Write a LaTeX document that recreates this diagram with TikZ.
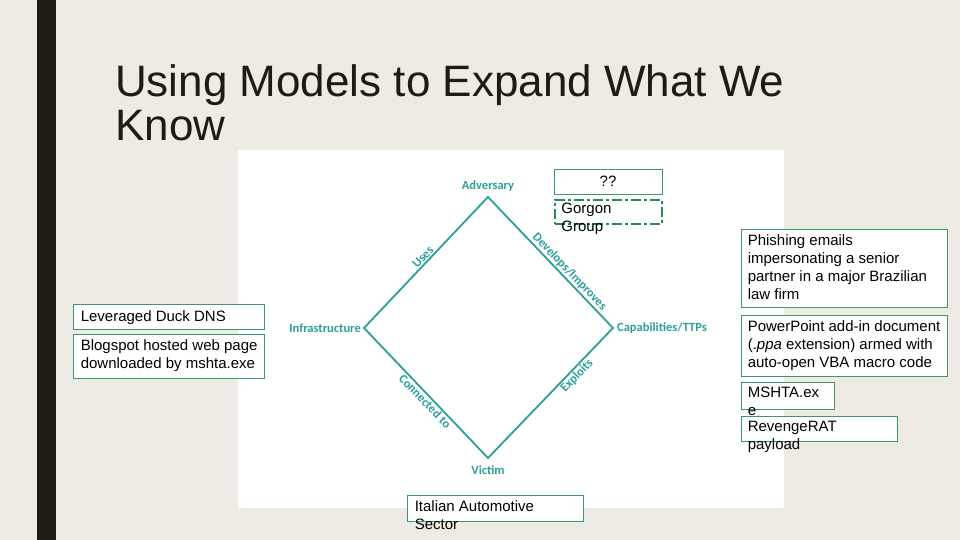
\documentclass[tikz,border=0pt]{standalone}
\usepackage{fontspec}
\setmainfont{Liberation Sans}
\newfontfamily\dmcalibri{Carlito}
\usepackage{tikz}
\usetikzlibrary{positioning}
\definecolor{dm-bg}{RGB}{238,235,228}
\definecolor{dm-ink}{RGB}{28,28,16}
\definecolor{dm-teal}{RGB}{44,160,152}
\definecolor{dm-green}{RGB}{62,150,108}
\definecolor{dm-dash}{RGB}{40,140,80}
\tikzset{
  dm@box/.style={
    draw=dm-green, fill=white, line width=0.9pt,
    inner sep=0pt, font=\fontsize{15}{18}\selectfont
  },
  dm@grp/.style={
    draw=dm-dash, fill=white, line width=2.6pt,
    dash pattern=on 10pt off 3pt on 3pt off 3pt, inner sep=0pt
  },
  dm@txt/.style={
    anchor=north west, inner sep=0pt, align=left,
    font=\fontsize{15}{18}\selectfont\strut, text=black
  },
  dm@edge/.style={dm-teal, line width=1.8pt},
  dm@vert/.style={font=\dmcalibri\bfseries\fontsize{12.5}{14}\selectfont,
    text=dm-teal, inner sep=1pt},
  dm@elbl/.style={font=\dmcalibri\bfseries\fontsize{12.5}{14}\selectfont,
    text=dm-teal, inner sep=1pt, sloped},
}
\begin{document}
\begin{tikzpicture}[x=1pt, y=1pt]
  % slide background
  \fill[dm-bg] (0,0) rectangle (960,540);
  \fill[dm-ink] (37,0) rectangle (56,540);
  \fill[white] (238,32) rectangle (784,390);
  \node[anchor=north west, inner sep=0pt, align=left, text=dm-ink,
        font=\fontsize{44}{44.7}\selectfont] (title) at (115,476)
        {Using Models to Expand What We\\Know};
  % diamond model
  \coordinate (adv) at (488,343);
  \coordinate (inf) at (364,212);
  \coordinate (cap) at (613,212);
  \coordinate (vic) at (488,82);
  \draw[dm@edge] (inf) -- node[dm@elbl, above, pos=0.51]{Uses}
                 (adv) -- node[dm@elbl, above, pos=0.61]{Develops/Improves}
                 (cap) -- node[dm@elbl, below, pos=0.33]{Exploits}
                 (vic) -- node[dm@elbl, below, pos=0.47]{Connected to}
                 cycle;
  \node[dm@vert, above=4pt of adv] (advlbl) {Adversary};
  \node[dm@vert, left=2pt of inf]  (inflbl) {Infrastructure};
  \node[dm@vert, right=3pt of cap] (caplbl) {Capabilities/TTPs};
  \node[dm@vert, below=7pt of vic] (viclbl) {Victim};
  % adversary
  \node[dm@box, minimum width=108pt, minimum height=25pt] (qq) at (608,358.5) {??};
  \node[dm@grp, minimum width=107pt, minimum height=24pt] (gorgon) at (608.5,328) {};
  \node[dm@txt] (gorgon-t) at ([shift={(7.5,-4.4)}]gorgon.north west) {Gorgon\\Group};
  % infrastructure
  \node[dm@box, minimum width=191pt, minimum height=25pt] (duck) at (168.5,223.5) {};
  \node[dm@txt] (duck-t) at ([shift={(8,-5.4)}]duck.north west) {Leveraged Duck DNS};
  \node[dm@box, minimum width=191pt, minimum height=44pt] (blog) at (168.5,184) {};
  \node[dm@txt] (blog-t) at ([shift={(8,-5.4)}]blog.north west)
        {Blogspot hosted web page\\downloaded by mshta.exe};
  % capabilities
  \node[dm@box, minimum width=206pt, minimum height=78pt] (phish) at (844,272) {};
  \node[dm@txt] (phish-t) at ([shift={(7,-5.4)}]phish.north west)
        {Phishing emails\\impersonating a senior\\partner in a major Brazilian\\law firm};
  \node[dm@box, minimum width=206pt, minimum height=61pt] (ppa) at (844,194) {};
  \node[dm@txt] (ppa-t) at ([shift={(7,-5.4)}]ppa.north west)
        {PowerPoint add-in document\\(.\textit{ppa} extension) armed with\\auto-open VBA macro code};
  \node[dm@box, minimum width=93pt, minimum height=27pt] (mshta) at (787.5,144.5) {};
  \node[dm@txt] (mshta-t) at ([shift={(7,-5.4)}]mshta.north west) {MSHTA.ex\\e};
  \node[dm@box, minimum width=156pt, minimum height=25pt] (rat) at (819,111) {};
  \node[dm@txt] (rat-t) at ([shift={(7,-5.4)}]rat.north west) {RevengeRAT\\payload};
  % victim
  \node[dm@box, minimum width=176pt, minimum height=26pt] (italy) at (495,32) {};
  \node[dm@txt] (italy-t) at ([shift={(8,-5.4)}]italy.north west) {Italian Automotive\\Sector};
\end{tikzpicture}
\end{document}
